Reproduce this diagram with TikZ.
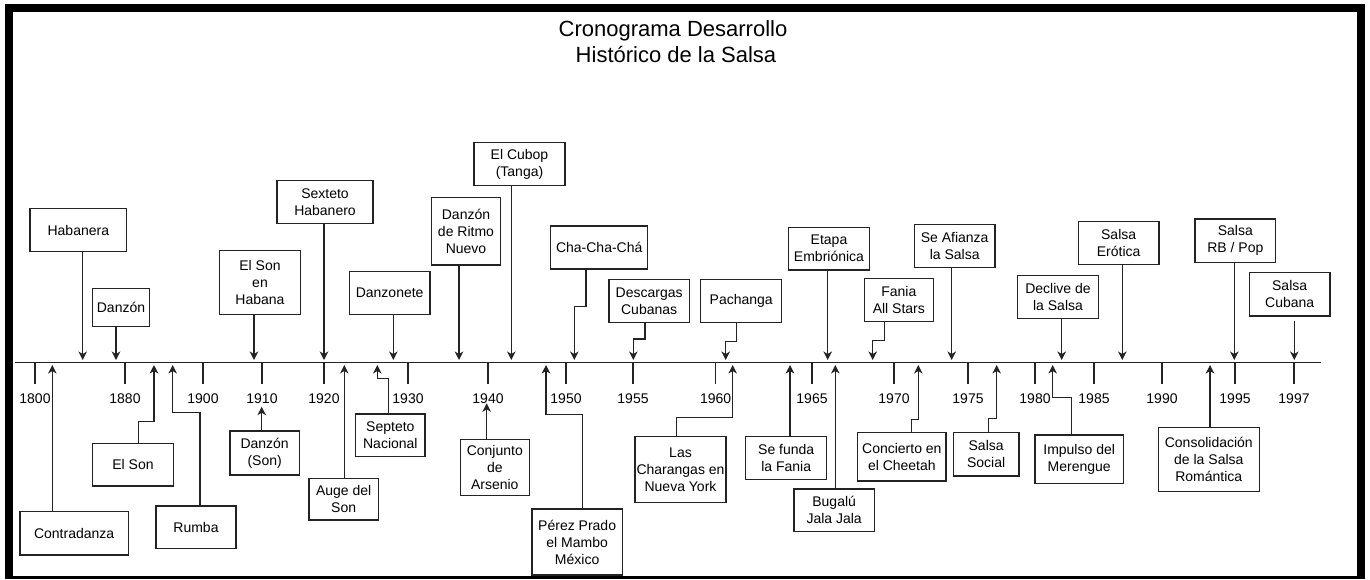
\documentclass[tikz,border=0pt]{standalone}
\usepackage{fontspec}
\setmainfont{Liberation Sans}
\usetikzlibrary{arrows.meta}
\definecolor{ln}{RGB}{35,35,35}
\tikzset{
  box/.style={draw=ln, line width=1.1pt, fill=white, inner sep=0pt, align=center,
    font=\fontsize{14}{17}\selectfont},
  conn/.style={draw=ln, line width=1.3pt, -{Stealth[length=8.5pt,width=8.5pt,inset=2.5pt]}},
  tick/.style={draw=ln, line width=1.3pt},
  yearlbl/.style={font=\fontsize{14}{17}\selectfont, anchor=base, inner sep=0pt},
  ttl/.style={font=\fontsize{22}{26}\selectfont, anchor=base, inner sep=0pt}
}
\begin{document}
\begin{tikzpicture}[x=1pt,y=-1pt]
\useasboundingbox (0,0) rectangle (1370,579);
% frame
\fill[black] (5,4) rectangle (1365,579);
\fill[white] (12.5,12) rectangle (1357,576);
% title
\node[ttl] (title1) at (673,36.7) {Cronograma Desarrollo};
\node[ttl] (title2) at (676,62.7) {Histórico de la Salsa};
% axis
\coordinate (axL) at (15,362.5);
\coordinate (axR) at (1320.7,362.5);
\draw[ln, line width=1.5pt] (axL) -- (axR);
% ticks and years
\foreach \x/\yr in {35/1800,125/1880,203/1900,262/1910,324/1920,408/1930,488/1940,566/1950,633/1955,715.7/1960,812/1965,894/1970,968/1975,1035/1980,1094/1985,1162/1990,1235/1995,1294/1997}{
  \coordinate (tk\yr) at (\x,362.5);
  \node[yearlbl] (y\yr) at (\x,403) {\yr};
  \draw[tick] (tk\yr) -- ++(0,21.5);
}
% ---------- upper boxes ----------
\node[box, minimum width=96.7pt, minimum height=43.4pt] (hab) at (78.35,230) {Habanera};
\node[box, minimum width=56.6pt, minimum height=38.4pt] (danz) at (121,307.5) {Danzón};
\node[box, minimum width=81.4pt, minimum height=64pt] (sonhab) at (260,282.7) {El Son\\en\\Habana};
\node[box, minimum width=96pt, minimum height=42.6pt] (sext) at (325,202) {Sexteto\\Habanero};
\node[box, minimum width=80.7pt, minimum height=42.6pt] (danzonete) at (389.65,293) {Danzonete};
\node[box, minimum width=69.4pt, minimum height=67.3pt] (ritmo) at (466,231.35) {Danzón\\de Ritmo\\Nuevo};
\node[box, minimum width=91pt, minimum height=43pt] (cubop) at (519.5,164.2) {El Cubop\\(Tanga)};
\node[box, minimum width=97pt, minimum height=43pt] (chacha) at (599.2,247.5) {Cha-Cha-Chá};
\node[box, minimum width=80.3pt, minimum height=43.4pt] (descargas) at (649.15,301) {Descargas\\Cubanas};
\node[box, minimum width=81pt, minimum height=43.4pt] (pachanga) at (741.2,301) {Pachanga};
\node[box, minimum width=80.6pt, minimum height=42.7pt] (etapa) at (829,248.65) {Etapa\\Embriónica};
\node[box, minimum width=69pt, minimum height=43.4pt] (fania) at (898.8,300) {Fania\\All Stars};
\node[box, minimum width=80.7pt, minimum height=43.4pt] (afianza) at (954.65,246) {Se Afianza\\la Salsa};
\node[box, minimum width=80.6pt, minimum height=42.6pt] (declive) at (1058,297) {Declive de\\la Salsa};
\node[box, minimum width=80.7pt, minimum height=42.6pt] (erotica) at (1118.65,243) {Salsa\\Erótica};
\node[box, minimum width=80.7pt, minimum height=43.3pt] (rbpop) at (1235.35,240.65) {Salsa\\RB / Pop};
\node[box, minimum width=80.7pt, minimum height=43.3pt] (cubana) at (1289.65,294.35) {Salsa\\Cubana};
% ---------- lower boxes ----------
\node[box, minimum width=108.3pt, minimum height=43.3pt] (contra) at (74.15,533.35) {Contradanza};
\node[box, minimum width=80.6pt, minimum height=42.7pt] (elson) at (133,464.65) {El Son};
\node[box, minimum width=80pt, minimum height=42.3pt] (rumba) at (196,527.15) {Rumba};
\node[box, minimum width=69.3pt, minimum height=44pt] (danzson) at (264.65,453) {Danzón\\(Son)};
\node[box, minimum width=69.3pt, minimum height=41.7pt] (auge) at (343.65,499.15) {Auge del\\Son};
\node[box, minimum width=69.3pt, minimum height=42.7pt] (septeto) at (390.35,435.35) {Septeto\\Nacional};
\node[box, minimum width=69pt, minimum height=56.4pt] (arsenio) at (494.8,467.5) {Conjunto\\de\\Arsenio};
\node[box, minimum width=90.3pt, minimum height=66pt] (perez) at (577.15,542) {Pérez Prado\\el Mambo\\México};
\node[box, minimum width=91pt, minimum height=66pt] (charangas) at (680.5,469.7) {Las\\Charangas en\\Nueva York};
\node[box, minimum width=81pt, minimum height=42.6pt] (funda) at (786.2,458) {Se funda\\la Fania};
\node[box, minimum width=80.3pt, minimum height=42.7pt] (bugalu) at (834.15,510.35) {Bugalú\\Jala Jala};
\node[box, minimum width=88.3pt, minimum height=48.7pt] (cheetah) at (901.85,456.65) {Concierto en\\el Cheetah};
\node[box, minimum width=65.7pt, minimum height=43.3pt] (social) at (986.15,454.35) {Salsa\\Social};
\node[box, minimum width=88.3pt, minimum height=48.3pt] (merengue) at (1079.15,459.15) {Impulso del\\Merengue};
\node[box, minimum width=101pt, minimum height=64.4pt] (consol) at (1208.8,459.5) {Consolidación\\de la Salsa\\Romántica};
% ---------- arrow tips ----------
\foreach \n/\x in {hab/82.7,danz/116,sonhab/254,sext/324,danzonete/393.3,ritmo/459,cubop/511.3,chacha/574.3,descargas/633.3,pachanga/725.7,etapa/827.7,fania/872.7,afianza/951.7,declive/1061.7,erotica/1122.3,rbpop/1234.3,cubana/1294.3}{
  \coordinate (t-\n) at (\x,360);
}
\foreach \n/\x in {contra/52.3,elson/154,rumba/172.7,auge/344.3,septeto/377.3,perez/546,charangas/732.7,funda/790,bugalu/835.3,cheetah/918.3,social/996.7,merengue/1052.7,consol/1210}{
  \coordinate (t-\n) at (\x,365);
}
\coordinate (t-danzson) at (261.7,406.7);
\coordinate (t-arsenio) at (486.7,403.3);
% ---------- straight connectors ----------
\foreach \n in {hab,danz,sonhab,sext,danzonete,ritmo,cubop,etapa,afianza,declive,erotica,rbpop}{
  \draw[conn] (\n.south -| t-\n) -- (t-\n);
}
\draw[conn, shorten <=4pt] (cubana.south -| t-cubana) -- (t-cubana);
\foreach \n in {contra,danzson,auge,arsenio,funda,bugalu,consol}{
  \draw[conn] (\n.north -| t-\n) -- (t-\n);
}
% ---------- elbow connectors (down) ----------
\draw[conn] ([xshift=-13.2pt]chacha.south) -- ++(0,36.7) -| (t-chacha);
\draw[conn] ([xshift=-4.15pt]descargas.south) -- ++(0,15.6) -| (t-descargas);
\draw[conn] ([xshift=-4.5pt]pachanga.south) -- ++(0,18.3) -| (t-pachanga);
\draw[conn] ([xshift=-14.5pt]fania.south) -- ++(0,18.3) -| (t-fania);
% ---------- elbow connectors (up) ----------
\draw[conn] ([xshift=5.3pt]elson.north) -- ++(0,-21.6) -| (t-elson);
\draw[conn] ([xshift=4pt]rumba.north) -- ++(0,-93.3) -| (t-rumba);
\draw[conn] ([xshift=-2.05pt]septeto.north) -- ++(0,-34.7) -| (t-septeto);
\draw[conn] ([xshift=5.55pt]perez.north) -- ++(0,-94) -| (t-perez);
\draw[conn] ([xshift=-3.8pt]charangas.north) -- ++(0,-19) -| (t-charangas);
\draw[conn] ([xshift=9.85pt]cheetah.north) -- ++(0,-12.3) -| (t-cheetah);
\draw[conn] ([xshift=2.15pt]social.north) -- ++(0,-13.7) -| (t-social);
\draw[conn] ([xshift=-7.45pt]merengue.north) -- ++(0,-37.3) -| (t-merengue);
\end{tikzpicture}
\end{document}
